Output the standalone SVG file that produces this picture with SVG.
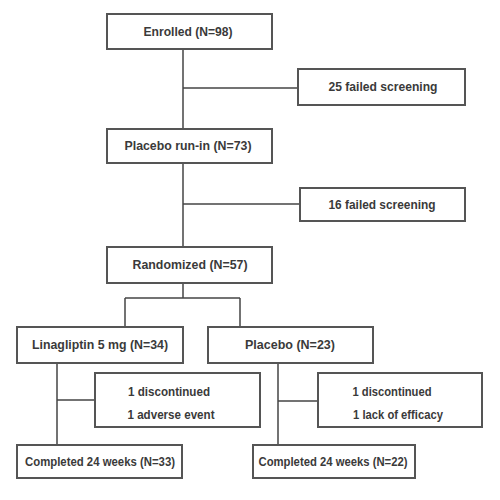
<svg xmlns="http://www.w3.org/2000/svg" width="500" height="500" viewBox="0 0 500 500">
<style>
rect.box{fill:#fff;stroke:#555;stroke-width:2}
text{font-family:"Liberation Sans Narrow","Liberation Sans",Arial,sans-serif;font-size:13px;font-weight:bold;fill:#3a3a3a;text-anchor:middle}
.conn line{stroke:#444;stroke-width:1.5}
</style>
<rect width="500" height="500" fill="#fff"/>
<g class="conn">
<line x1="183" y1="50" x2="183" y2="129"/>
<line x1="183" y1="88" x2="298" y2="88"/>
<line x1="183" y1="163" x2="183" y2="247"/>
<line x1="183" y1="204" x2="300" y2="204"/>
<line x1="183" y1="283" x2="183" y2="298"/>
<line x1="125" y1="298" x2="240" y2="298"/>
<line x1="125" y1="298" x2="125" y2="327"/>
<line x1="240" y1="298" x2="240" y2="327"/>
<line x1="57" y1="363" x2="57" y2="445"/>
<line x1="57" y1="400" x2="95" y2="400"/>
<line x1="278" y1="363" x2="278" y2="445"/>
<line x1="278" y1="401" x2="318" y2="401"/>
</g>
<g id="enrolled"><rect class="box" x="107" y="14" width="165" height="35"/><text x="188" y="36" textLength="89" lengthAdjust="spacingAndGlyphs">Enrolled (N=98)</text></g>
<g id="fail1"><rect class="box" x="298" y="69" width="167" height="36"/><text x="383" y="91" textLength="109" lengthAdjust="spacingAndGlyphs">25 failed screening</text></g>
<g id="runin"><rect class="box" x="107" y="129" width="165" height="34"/><text x="188" y="150" textLength="127" lengthAdjust="spacingAndGlyphs">Placebo run-in (N=73)</text></g>
<g id="fail2"><rect class="box" x="300" y="188" width="165" height="33"/><text x="382" y="209" textLength="107" lengthAdjust="spacingAndGlyphs">16 failed screening</text></g>
<g id="randomized"><rect class="box" x="107" y="247" width="165" height="36"/><text x="190" y="269" textLength="115" lengthAdjust="spacingAndGlyphs">Randomized (N=57)</text></g>
<g id="lina"><rect class="box" x="17" y="327" width="166" height="36"/><text x="100" y="349" textLength="136" lengthAdjust="spacingAndGlyphs">Linagliptin 5 mg (N=34)</text></g>
<g id="placebo"><rect class="box" x="208" y="327" width="165" height="36"/><text x="290" y="349" textLength="90" lengthAdjust="spacingAndGlyphs">Placebo (N=23)</text></g>
<g id="disc1"><rect class="box" x="95" y="373" width="165" height="54"/><text x="169" y="396" textLength="82" lengthAdjust="spacingAndGlyphs">1 discontinued</text><text x="171" y="419" textLength="87" lengthAdjust="spacingAndGlyphs">1 adverse event</text></g>
<g id="disc2"><rect class="box" x="318" y="373" width="164" height="54"/><text x="392" y="396" textLength="79" lengthAdjust="spacingAndGlyphs">1 discontinued</text><text x="398" y="419" textLength="90" lengthAdjust="spacingAndGlyphs">1 lack of efficacy</text></g>
<g id="comp1"><rect class="box" x="17" y="445" width="165" height="33"/><text x="100" y="466" textLength="150" lengthAdjust="spacingAndGlyphs">Completed 24 weeks (N=33)</text></g>
<g id="comp2"><rect class="box" x="253" y="445" width="162" height="33"/><text x="333" y="466" textLength="149" lengthAdjust="spacingAndGlyphs">Completed 24 weeks (N=22)</text></g>
</svg>
